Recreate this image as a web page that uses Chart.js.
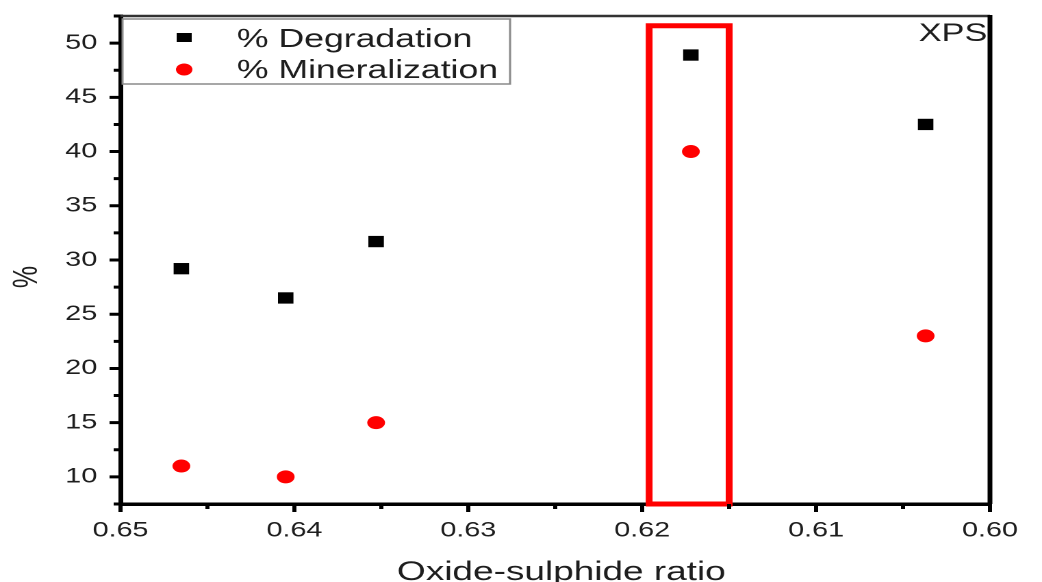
<!DOCTYPE html>
<html>
<head>
<meta charset="utf-8">
<script src="https://cdn.jsdelivr.net/npm/chart.js@4.4.1/dist/chart.umd.min.js"></script>
<style>
  html, body { margin: 0; padding: 0; background: #fff; }
</style>
</head>
<body>
<!-- canvas is drawn narrower and stretched sideways by CSS, like the exported figure -->
<canvas id="xpsChart" width="761" height="582" style="display:block;width:1042px;height:582px"></canvas>
<script>
// Oxide-sulphide ratio from XPS vs. removal efficiency
const oxideRatio = [0.6465, 0.6405, 0.6353, 0.6172, 0.6037];
const degradation = [29.2, 26.5, 31.7, 48.9, 42.5];
const mineralization = [11.0, 10.0, 15.0, 40.0, 23.0];

const xTicks = [0.65, 0.64, 0.63, 0.62, 0.61, 0.60];
const xMinorTicks = [0.645, 0.635, 0.625, 0.615, 0.605];
const yTicks = [10, 15, 20, 25, 30, 35, 40, 45, 50];
const yMinorTicks = [7.5, 12.5, 17.5, 22.5, 27.5, 32.5, 37.5, 42.5, 47.5, 52.5];

// highlighted sample (red box), in data units
const highlightX = [0.6196, 0.6150];
const highlightTop = 51.6;

const FONT = '"Liberation Sans", Arial, Helvetica, sans-serif';
const INK = '#1e1e1e';

// tick marks: major and minor, drawn outward from the axes
const axisTicks = {
  id: 'axisTicks',
  afterDraw(chart) {
    const { ctx, chartArea: a, scales: { x, y } } = chart;
    ctx.save();
    ctx.strokeStyle = '#000';
    ctx.lineWidth = 3;
    ctx.beginPath();
    xTicks.forEach(v => { const px = x.getPixelForValue(v); ctx.moveTo(px, a.bottom); ctx.lineTo(px, a.bottom + 8); });
    xMinorTicks.forEach(v => { const px = x.getPixelForValue(v); ctx.moveTo(px, a.bottom); ctx.lineTo(px, a.bottom + 5); });
    yTicks.forEach(v => { const py = y.getPixelForValue(v); ctx.moveTo(a.left, py); ctx.lineTo(a.left - 8, py); });
    yMinorTicks.forEach(v => { const py = y.getPixelForValue(v); ctx.moveTo(a.left, py); ctx.lineTo(a.left - 5, py); });
    ctx.stroke();

    // top and right frame
    ctx.strokeStyle = '#333';
    ctx.lineWidth = 2.5;
    ctx.beginPath();
    ctx.moveTo(a.left, a.top);
    ctx.lineTo(a.right, a.top);
    ctx.stroke();
    ctx.strokeStyle = '#000';
    ctx.lineWidth = 3.5;
    ctx.beginPath();
    ctx.moveTo(a.right, a.top - 1);
    ctx.lineTo(a.right, a.bottom);
    ctx.stroke();
    ctx.restore();
  }
};

// red box around the best sample
const highlightBox = {
  id: 'highlightBox',
  afterDatasetsDraw(chart) {
    const { ctx, scales: { x, y } } = chart;
    const x0 = x.getPixelForValue(highlightX[0]);
    const x1 = x.getPixelForValue(highlightX[1]);
    const y0 = y.getPixelForValue(highlightTop);
    const y1 = y.getPixelForValue(y.min);
    ctx.save();
    ctx.strokeStyle = '#ff0000';
    ctx.lineWidth = 5;
    ctx.strokeRect(x0, y0, x1 - x0, y1 - y0);
    ctx.restore();
  }
};

// legend inside the plot, axis titles and the XPS tag
const annotations = {
  id: 'annotations',
  afterDraw(chart) {
    const { ctx, chartArea: a } = chart;
    ctx.save();

    // legend
    const lx = a.left + 1.5, ly = a.top + 3;
    ctx.fillStyle = '#fff';
    ctx.fillRect(lx, ly, 283, 65);
    ctx.strokeStyle = '#8a8a8a';
    ctx.lineWidth = 1.5;
    ctx.strokeRect(lx, ly, 283, 65);

    const ds = chart.data.datasets;
    ctx.fillStyle = ds[0].backgroundColor;
    ctx.fillRect(a.left + 41, ly + 14, 11, 9);
    ctx.fillStyle = ds[1].backgroundColor;
    ctx.beginPath();
    ctx.arc(a.left + 46.5, ly + 50.5, 6, 0, Math.PI * 2);
    ctx.fill();

    ctx.fillStyle = INK;
    ctx.font = '26px ' + FONT;
    ctx.textAlign = 'left';
    ctx.textBaseline = 'alphabetic';
    ctx.fillText(ds[0].label, a.left + 85, 47);
    ctx.fillText(ds[1].label, a.left + 85, 78);

    // XPS tag
    ctx.font = '25px ' + FONT;
    ctx.textAlign = 'right';
    ctx.fillText('XPS', a.right - 2, 41);

    // x axis title
    ctx.font = '27px ' + FONT;
    ctx.textAlign = 'center';
    ctx.fillText('Oxide-sulphide ratio', 410, 580);

    // y axis title
    ctx.translate(20, 277);
    ctx.rotate(-Math.PI / 2);
    ctx.font = '25px ' + FONT;
    ctx.textBaseline = 'middle';
    ctx.fillText('%', 0, 0);
    ctx.restore();
  }
};

const ctx = document.getElementById('xpsChart').getContext('2d');

new Chart(ctx, {
  type: 'scatter',
  data: {
    datasets: [
      {
        label: '% Degradation',
        data: oxideRatio.map((r, i) => ({ x: r, y: degradation[i] })),
        backgroundColor: '#000',
        borderColor: '#000',
        borderWidth: 0,
        pointStyle: 'rect',
        pointRadius: 8,
        pointHoverRadius: 8
      },
      {
        label: '% Mineralization',
        data: oxideRatio.map((r, i) => ({ x: r, y: mineralization[i] })),
        backgroundColor: '#ff0000',
        borderColor: '#ff0000',
        borderWidth: 0,
        pointStyle: 'circle',
        pointRadius: 6.5,
        pointHoverRadius: 6.5
      }
    ]
  },
  options: {
    responsive: false,
    devicePixelRatio: 2,
    animation: false,
    events: [],
    layout: { padding: { left: 0, right: 38, top: 16, bottom: 0 } },
    plugins: {
      legend: { display: false },
      tooltip: { enabled: false }
    },
    scales: {
      x: {
        type: 'linear',
        reverse: true,
        min: 0.60,
        max: 0.65,
        afterBuildTicks: axis => { axis.ticks = xTicks.map(v => ({ value: v })); },
        afterFit: axis => { axis.height = 78; axis.paddingLeft = 0; axis.paddingRight = 0; },
        grid: { display: false, drawTicks: false },
        border: { display: true, color: '#000', width: 3.5 },
        ticks: {
          color: INK,
          padding: 14,
          maxRotation: 0,
          font: { family: FONT, size: 21 },
          callback: v => Number(v).toFixed(2)
        }
      },
      y: {
        type: 'linear',
        min: 7.5,
        max: 52.5,
        afterBuildTicks: axis => { axis.ticks = yTicks.map(v => ({ value: v })); },
        afterFit: axis => { axis.width = 88; axis.paddingTop = 0; axis.paddingBottom = 0; },
        grid: { display: false, drawTicks: false },
        border: { display: true, color: '#000', width: 3.5 },
        ticks: {
          color: INK,
          padding: 17,
          font: { family: FONT, size: 21 },
          callback: v => String(v)
        }
      }
    }
  },
  plugins: [highlightBox, axisTicks, annotations]
});
</script>
</body>
</html>
